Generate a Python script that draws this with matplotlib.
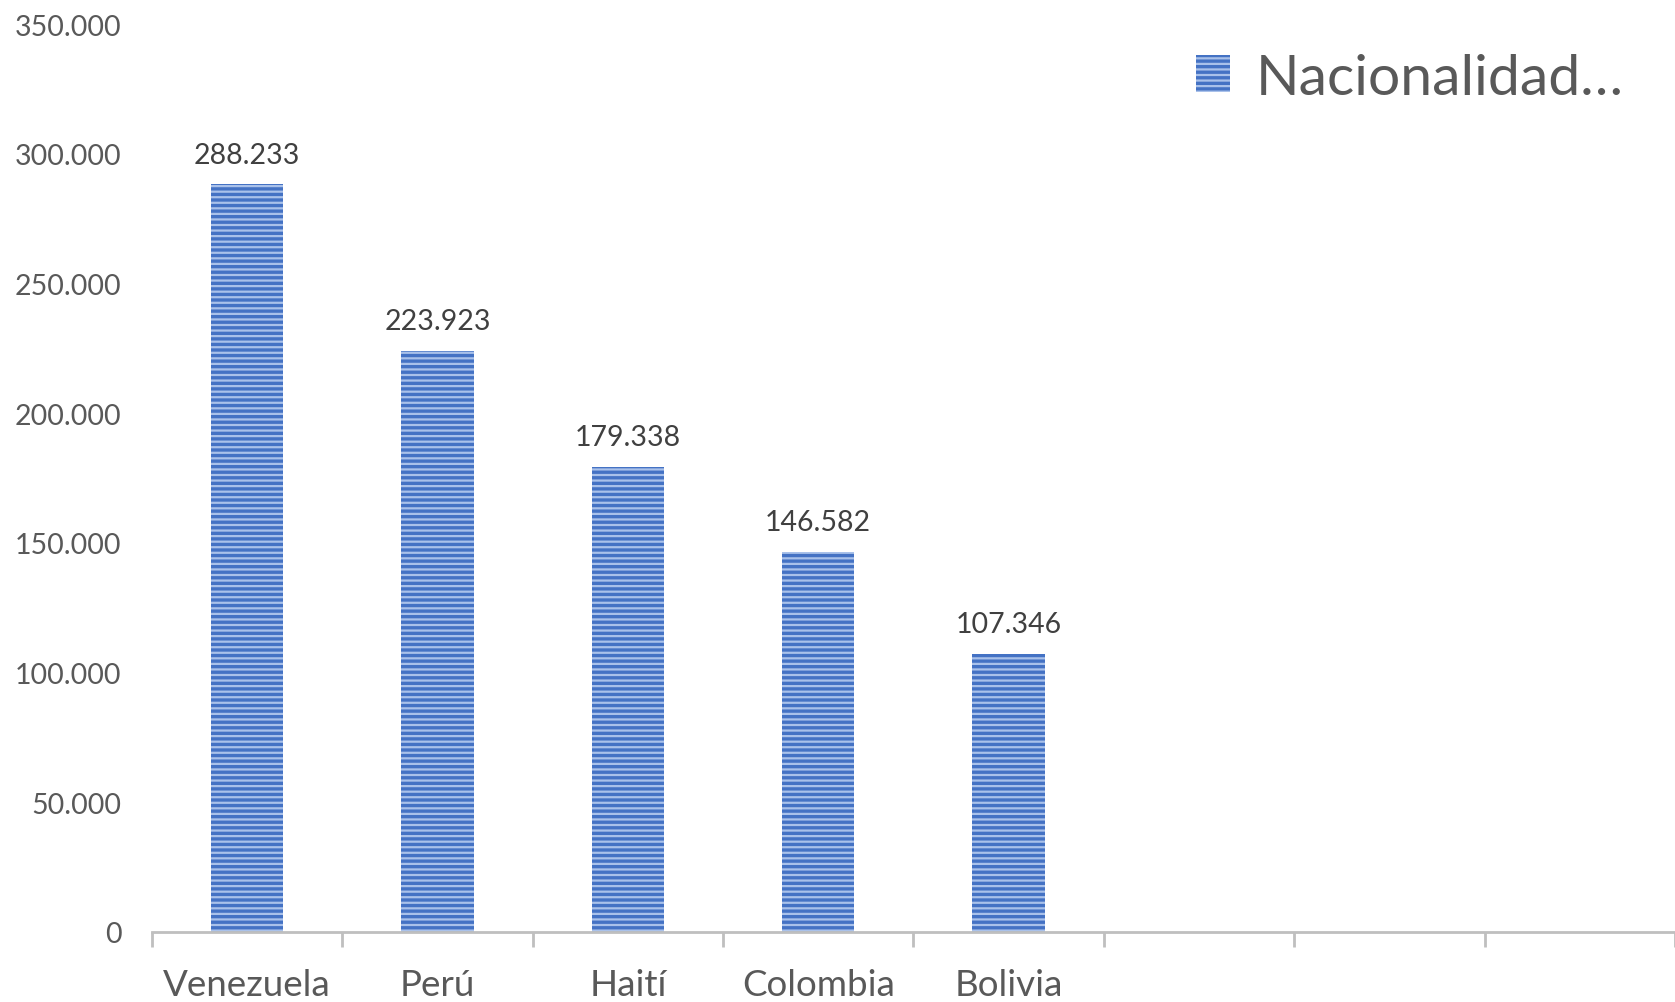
import numpy as np
import matplotlib.pyplot as plt
from matplotlib.ticker import FuncFormatter

categorias = ['Venezuela', 'Perú', 'Haití', 'Colombia', 'Bolivia', '', '', '']
valores = [288233, 223923, 179338, 146582, 107346]
etiquetas = ['288.233', '223.923', '179.338', '146.582', '107.346']
serie = 'Nacionalidad…'

plt.rcParams['font.family'] = ['Lato', 'DejaVu Sans']
plt.rcParams['hatch.linewidth'] = 1.6

fig = plt.figure(figsize=(16.75, 10.03), dpi=100)
ax = fig.add_axes([0.0907, 0.0698, 0.9093, 0.9052])

x = np.arange(len(valores))
bars = ax.bar(x, valores, width=0.38, color='#4472C4', edgecolor='#A9C1EA',
              linewidth=0, hatch='---', label=serie)

for xi, v, t in zip(x, valores, etiquetas):
    ax.annotate(t, (xi, v), xytext=(0, 12), textcoords='offset points',
                ha='center', va='bottom', fontsize=20.5, color='#404040')

ax.set_xlim(-0.5, len(categorias) - 0.5)
ax.set_ylim(0, 350000)
ax.set_yticks(np.arange(0, 350001, 50000))
ax.yaxis.set_major_formatter(FuncFormatter(lambda v, p: f'{int(v):,}'.replace(',', '.')))
ax.set_xticks(np.arange(len(categorias)))
ax.set_xticklabels(categorias)
ax.set_xticks(np.arange(-0.5, len(categorias), 1), minor=True)

ax.tick_params(axis='y', length=0, labelsize=20.5, labelcolor='#595959', pad=22)
ax.tick_params(axis='x', which='major', length=0, labelsize=26.5, labelcolor='#595959', pad=26)
ax.tick_params(axis='x', which='minor', length=11, width=2, color='#BFBFBF')

for s in ['left', 'right', 'top']:
    ax.spines[s].set_visible(False)
ax.spines['bottom'].set_color('#BFBFBF')
ax.spines['bottom'].set_linewidth(2)

leg = ax.legend(loc='upper right', bbox_to_anchor=(1.0, 1.025), frameon=False,
                fontsize=41, handlelength=0.6, handleheight=0.6, handletextpad=0.45,
                labelcolor='#595959')

fig.savefig('out.png', dpi=100)
